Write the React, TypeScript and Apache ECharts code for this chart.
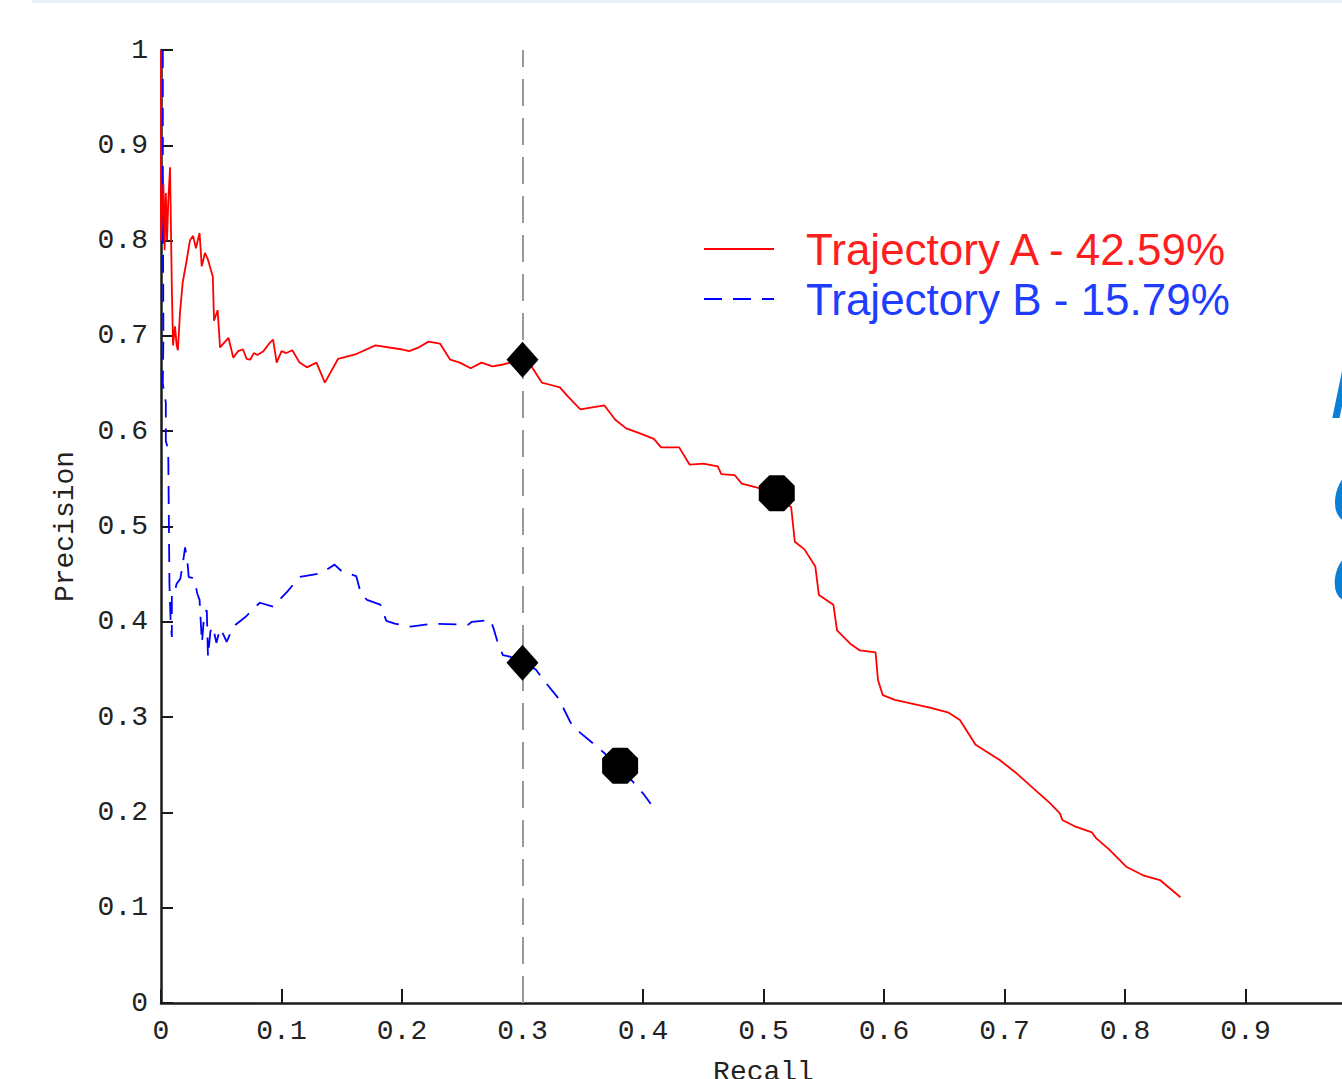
import React, { useEffect, useRef } from "react";
import * as echarts from "echarts";

const seriesNames = ["Trajectory A - 42.59%", "Trajectory B - 15.79%"];

const recallA = [
  0, 0, 0.002, 0.003, 0.004, 0.005, 0.006, 0.0075, 0.009, 0.01, 0.0116, 0.013, 0.014, 0.0158, 0.018,
  0.021, 0.024, 0.0266, 0.029, 0.032, 0.0338, 0.0365, 0.039, 0.043, 0.044, 0.047, 0.049, 0.056, 0.06,
  0.064, 0.068, 0.071, 0.074, 0.077, 0.08, 0.085, 0.0905, 0.093, 0.096, 0.1, 0.104, 0.109, 0.115,
  0.121, 0.129, 0.136, 0.147, 0.162, 0.178, 0.199, 0.206, 0.214, 0.222, 0.2315, 0.24, 0.248, 0.257,
  0.266, 0.275, 0.284, 0.2996, 0.3075, 0.316, 0.322, 0.331, 0.338, 0.348, 0.358, 0.368, 0.377, 0.386,
  0.397, 0.409, 0.415, 0.43, 0.4386, 0.45, 0.462, 0.465, 0.476, 0.482, 0.494, 0.511, 0.523, 0.526,
  0.534, 0.543, 0.546, 0.558, 0.561, 0.572, 0.58, 0.593, 0.595, 0.599, 0.609, 0.638, 0.653, 0.663,
  0.676, 0.696, 0.71, 0.7375, 0.746, 0.748, 0.759, 0.7726, 0.776, 0.787, 0.801, 0.815, 0.829, 0.846,
];
const precisionA = [
  1.0, 0.8, 0.86, 0.79, 0.85, 0.8, 0.84, 0.877, 0.75, 0.69, 0.71, 0.69, 0.685, 0.725, 0.756, 0.777,
  0.8, 0.805, 0.792, 0.808, 0.773, 0.787, 0.78, 0.762, 0.716, 0.727, 0.688, 0.698, 0.677, 0.684,
  0.686, 0.676, 0.675, 0.682, 0.68, 0.684, 0.693, 0.696, 0.672, 0.684, 0.682, 0.685, 0.672, 0.667,
  0.672, 0.651, 0.676, 0.681, 0.69, 0.686, 0.684, 0.688, 0.694, 0.692, 0.675, 0.672, 0.666, 0.672,
  0.668, 0.67, 0.675, 0.668, 0.651, 0.649, 0.646, 0.636, 0.623, 0.625, 0.627, 0.612, 0.603, 0.598,
  0.592, 0.583, 0.583, 0.565, 0.566, 0.563, 0.555, 0.554, 0.545, 0.541, 0.535, 0.52, 0.484, 0.476,
  0.458, 0.428, 0.418, 0.391, 0.377, 0.37, 0.368, 0.339, 0.323, 0.318, 0.31, 0.305, 0.297, 0.271,
  0.255, 0.241, 0.21, 0.199, 0.192, 0.185, 0.179, 0.173, 0.161, 0.143, 0.134, 0.129, 0.111,
];

const recallB = [
  0.0015, 0.0015, 0.002, 0.0015, 0.002, 0.0015, 0.004, 0.004, 0.006, 0.007, 0.008, 0.009, 0.009,
  0.011, 0.013, 0.016, 0.018, 0.02, 0.022, 0.023, 0.026, 0.028, 0.03, 0.032, 0.033, 0.034, 0.036,
  0.038, 0.039, 0.041, 0.043, 0.046, 0.049, 0.052, 0.0545, 0.06, 0.07, 0.082, 0.093, 0.105, 0.115,
  0.124, 0.133, 0.144, 0.15, 0.162, 0.166, 0.171, 0.182, 0.187, 0.194, 0.207, 0.226, 0.255, 0.258,
  0.2735, 0.2765, 0.279, 0.2837, 0.2895, 0.2988, 0.311, 0.318, 0.329, 0.3345, 0.34, 0.3475, 0.359,
  0.369, 0.381, 0.391, 0.4, 0.4064,
];
const precisionB = [
  1.0, 0.88, 0.8, 0.86, 0.7, 0.65, 0.63, 0.59, 0.58, 0.44, 0.4, 0.384, 0.43, 0.43, 0.44, 0.445, 0.46,
  0.478, 0.462, 0.447, 0.446, 0.444, 0.43, 0.423, 0.4, 0.378, 0.41, 0.412, 0.363, 0.39, 0.395, 0.378,
  0.393, 0.386, 0.379, 0.395, 0.405, 0.42, 0.416, 0.432, 0.447, 0.449, 0.451, 0.46, 0.453, 0.448,
  0.429, 0.423, 0.418, 0.401, 0.398, 0.395, 0.398, 0.397, 0.4, 0.402, 0.391, 0.38, 0.365, 0.3635,
  0.358, 0.35, 0.338, 0.321, 0.308, 0.294, 0.284, 0.272, 0.261, 0.25, 0.233, 0.22, 0.209,
];

const diamondPoints = [
  [0.3, 0.675],
  [0.3, 0.357],
];
const octagonPoints = [
  [0.511, 0.535],
  [0.381, 0.249],
];

const recallThreshold = 0.3;
const tickValues = [0, 0.1, 0.2, 0.3, 0.4, 0.5, 0.6, 0.7, 0.8, 0.9, 1];
const sideWords = ["M", "C", "C"];

const OCTAGON = "path://M29.3,0 L70.7,0 L100,29.3 L100,70.7 L70.7,100 L29.3,100 L0,70.7 L0,29.3 Z";
const AXIS_FONT = "Liberation Mono";

function zip(xs: number[], ys: number[]) {
  return xs.map((x, i) => [x, ys[i]]);
}

function tickFormatter(v: number) {
  const t = tickValues.find((tv) => Math.abs(tv - v) < 1e-9);
  return t === undefined ? "" : String(t);
}

export default function App() {
  const ref = useRef<HTMLDivElement>(null);
  useEffect(() => {
    if (!ref.current) return;
    const chart = echarts.init(ref.current, undefined, { renderer: "svg" });
    const axisLabel = {
      fontFamily: AXIS_FONT,
      fontSize: 28,
      color: "#222",
      formatter: tickFormatter,
    };
    const sideText = (word: string, x: number, y: number, size: number) => ({
      type: "text",
      x,
      y,
      silent: true,
      style: {
        text: word,
        fontFamily: "Open Sans",
        fontStyle: "italic",
        fontWeight: 600,
        fontSize: size,
        fill: "#0a7fd6",
        textVerticalAlign: "bottom",
      },
    });
    chart.setOption({
      animation: false,
      backgroundColor: "#ffffff",
      grid: {
        left: 161,
        top: 50,
        width: 1205,
        height: 953,
        containLabel: false,
        outerBoundsMode: "none",
      },
      legend: {
        orient: "vertical",
        left: 698,
        top: 219,
        itemWidth: 70,
        itemHeight: 14,
        itemGap: 0,
        selectedMode: false,
        itemStyle: { opacity: 0 },
        data: [
          { name: seriesNames[0], textStyle: { color: "#ff1e1e" } },
          { name: seriesNames[1], textStyle: { color: "#1f3dff" } },
        ],
        textStyle: {
          fontFamily: "Liberation Sans",
          fontSize: 44,
          lineHeight: 50,
          padding: [0, 0, 0, 27],
        },
      },
      xAxis: {
        type: "value",
        min: 0,
        max: 1,
        interval: 0.1,
        name: "Recall",
        nameLocation: "middle",
        nameGap: 55,
        nameTextStyle: { fontFamily: AXIS_FONT, fontSize: 28, color: "#222" },
        axisLine: { show: true, lineStyle: { color: "#1a1a1a", width: 2.5 } },
        axisTick: { show: true, inside: true, length: 14, lineStyle: { color: "#1a1a1a", width: 2 } },
        axisLabel: { ...axisLabel, margin: 14 },
        splitLine: { show: false },
      },
      yAxis: {
        type: "value",
        min: 0,
        max: 1,
        interval: 0.1,
        name: "Precision",
        nameLocation: "middle",
        nameRotate: 90,
        nameGap: 82,
        nameTextStyle: { fontFamily: AXIS_FONT, fontSize: 28, color: "#222" },
        axisLine: { show: true, lineStyle: { color: "#1a1a1a", width: 2.5 } },
        axisTick: { show: true, inside: true, length: 12, lineStyle: { color: "#1a1a1a", width: 2 } },
        axisLabel: { ...axisLabel, margin: 13 },
        splitLine: { show: false },
      },
      series: [
        {
          name: seriesNames[1],
          type: "line",
          data: zip(recallB, precisionB),
          symbol: "none",
          color: "#1f3dff",
          lineStyle: { color: "#0000ff", width: 1.8, type: [18, 11] },
          z: 2,
        },
        {
          name: seriesNames[0],
          type: "line",
          data: zip(recallA, precisionA),
          symbol: "none",
          color: "#ff1e1e",
          lineStyle: { color: "#ff0000", width: 1.8 },
          z: 3,
          markLine: {
            silent: true,
            symbol: "none",
            label: { show: false },
            lineStyle: { color: "#999999", width: 2, type: [27, 12] },
            data: [{ xAxis: recallThreshold }],
            z: 1,
          },
        },
        {
          name: "markers",
          type: "scatter",
          z: 5,
          itemStyle: { color: "#000000", opacity: 1 },
          data: [
            ...diamondPoints.map((p) => ({ value: p, symbol: "diamond", symbolSize: [32, 36] })),
            ...octagonPoints.map((p) => ({ value: p, symbol: OCTAGON, symbolSize: [36, 36] })),
          ],
        },
      ],
      graphic: [
        {
          type: "rect",
          left: 32,
          top: 0,
          silent: true,
          shape: { width: 1310, height: 3 },
          style: { fill: "#e9f1fb" },
        },
        sideText(sideWords[0], 1330, 425, 68),
        sideText(sideWords[1], 1330, 531, 74),
        sideText(sideWords[2], 1330, 610, 70),
      ],
    });
    return () => chart.dispose();
  }, []);
  return (
    <div
      ref={ref}
      style={{ position: "fixed", left: 0, top: 0, width: 1342, height: 1079, background: "#fff" }}
    />
  );
}
